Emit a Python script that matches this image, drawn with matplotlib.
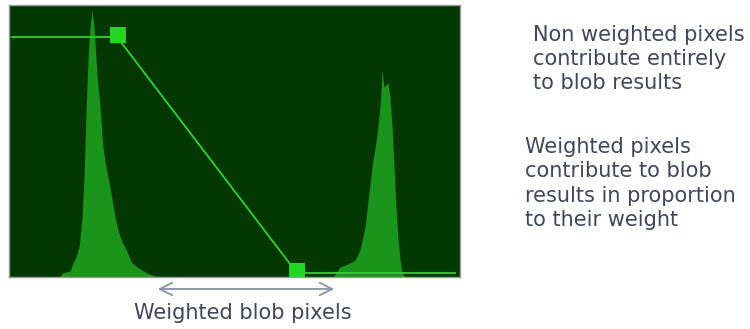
import matplotlib
matplotlib.use("Agg")
import matplotlib.pyplot as plt

# Histogram envelope (gray level, count)
left_gray = [28.8, 30.0, 34.5, 36.2, 37.9, 39.6, 41.3, 42.4, 43.5, 44.7, 45.8, 46.9, 48.1,
             49.8, 51.5, 53.1, 54.8, 57.1, 59.9, 61.6, 63.9, 65.6, 69.5, 74.1, 78.0, 82.5, 85.4]
left_count = [0, 4, 6, 14, 20, 30, 60, 100, 160, 220, 250, 267, 250,
              200, 170, 130, 110, 90, 60, 47, 35, 30, 14, 8, 4, 1, 0]
right_gray = [183.2, 184.9, 187.1, 190.0, 192.8, 195.6, 198.5, 201.3, 203.5, 205.8, 207.5,
              208.6, 209.7, 210.3, 210.9, 212.0, 213.2, 214.3, 215.4, 216.6, 217.7, 218.8,
              219.9, 221.1, 222.2, 223.9]
right_count = [0, 4, 10, 12, 14, 17, 27, 50, 84, 117, 135,
               150, 170, 185, 207, 190, 192, 194, 180, 150, 110, 70,
               40, 17, 5, 0]

# Weight curve
weight_gray = [1.7, 61.1, 162.8, 252.2]
weight_val = [240, 240, 4, 4]
handle_gray = [61.4, 162.8]
handle_val = [242, 6]

block1 = "Non weighted pixels\ncontribute entirely\nto blob results"
block2 = "Weighted pixels\ncontribute to blob\nresults in proportion\nto their weight"
range_label = "Weighted blob pixels"

fig = plt.figure(figsize=(7.5, 3.29), dpi=100)
W, H = 750, 329
ax = fig.add_axes([9 / W, (H - 277) / H, 451 / W, 272 / H])
ax.set_facecolor("#033803")
ax.fill_between(left_gray, left_count, 0, color="#1a941a", lw=0)
ax.fill_between(right_gray, right_count, 0, color="#1a941a", lw=0)
ax.plot(weight_gray, weight_val, color="#33d033", lw=1.3)
ax.plot(handle_gray, handle_val, ls="none", marker="s", markersize=11,
        color="#22d622", markeredgewidth=0)
ax.set_xlim(0, 255)
ax.set_ylim(0, 272)
ax.set_xticks([])
ax.set_yticks([])
for s in ax.spines.values():
    s.set_color("#9a9a9a")
    s.set_linewidth(1)

txt_color = "#41465a"
fs = 15
fig.text(533 / W, 1 - 25 / H, block1, ha="left", va="top", fontsize=fs,
         color=txt_color, linespacing=1.24, family="DejaVu Sans")
fig.text(525 / W, 1 - 137 / H, block2, ha="left", va="top", fontsize=fs,
         color=txt_color, linespacing=1.28, family="DejaVu Sans")
fig.text(243 / W, 1 - 313 / H, range_label, ha="center", va="center", fontsize=fs,
         color=txt_color, family="DejaVu Sans")
fig.patches.append(matplotlib.patches.FancyArrowPatch(
    (155 / W, 1 - 289 / H), (337 / W, 1 - 289 / H), transform=fig.transFigure,
    arrowstyle="<->,head_length=9,head_width=4.5", color="#8a90a8", lw=1.3))

fig.savefig("out.png", dpi=100, facecolor="white")
